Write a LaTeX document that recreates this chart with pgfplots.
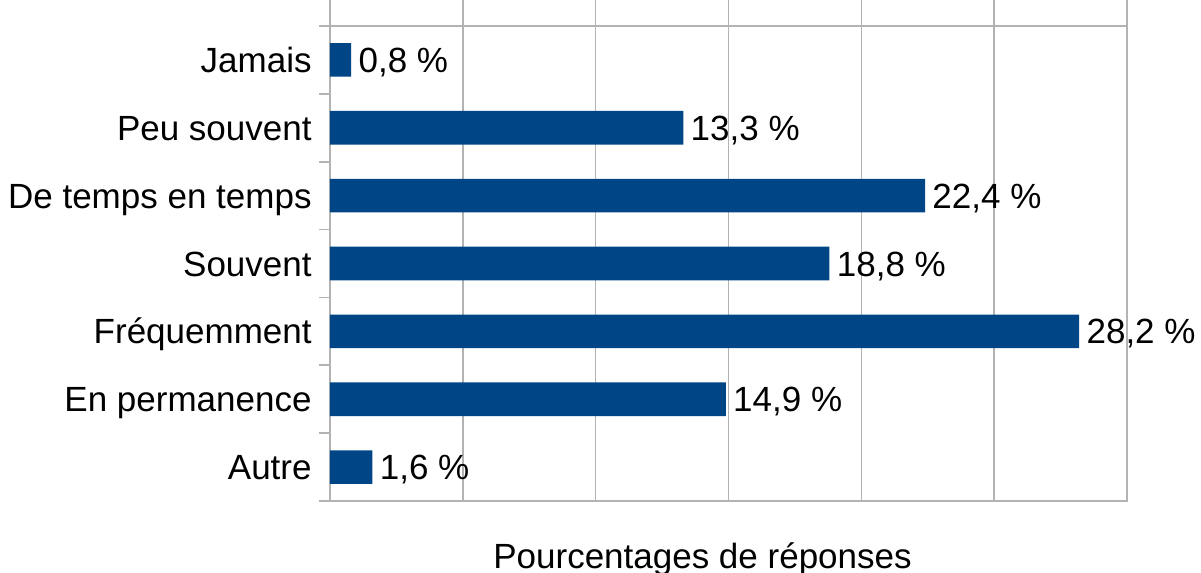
\documentclass[border=0pt]{standalone}
\usepackage{pgfplots}
\pgfplotsset{compat=1.18}
\usepackage{fontspec}
\setmainfont{Liberation Sans}
\definecolor{barblue}{RGB}{0,69,134}
\definecolor{gridgray}{RGB}{179,179,179}
\newcommand{\chartfont}{\fontsize{17.5}{21}\selectfont}

\begin{document}
\begin{tikzpicture}[font=\chartfont]
\begin{axis}[
  xbar,
  scale only axis, width=398.5pt, height=237.5pt,
  xmin=0, xmax=30, ymin=-0.5, ymax=6.5,
  xtick={0,5,...,30}, xticklabels={,,,,,,,},
  ytick={0,...,6}, ytick pos=left,
  yticklabels={Autre,En permanence,Fréquemment,Souvent,De temps en temps,Peu souvent,Jamais},
  minor ytick={-0.5,0.5,...,6.5},
  tick align=outside, major tick length=6pt, minor tick length=5.5pt,
  major y tick style={draw=none},
  minor y tick style={gridgray, line width=0.8pt},
  major x tick style={draw=none},
  xmajorgrids, major x grid style={gridgray, line width=0.8pt},
  axis line style={gridgray, line width=0.8pt},
  yticklabel style={font=\chartfont, anchor=east, inner sep=0pt, xshift=-3pt,
    text height=12.5pt, text depth=0pt},
  bar width=0.495,
  point meta=x,
  nodes near coords={\pgfmathprintnumber[fixed,fixed zerofill,precision=1,use comma,assume math mode=true]{\pgfplotspointmeta}~\%},
  nodes near coords style={font=\chartfont, black, anchor=west, inner sep=0pt, xshift=3.5pt,
    text height=12.5pt, text depth=0pt},
  clip=false,
]
\addplot[fill=barblue, draw=none] coordinates {
  (1.6,0) (14.9,1) (28.2,2) (18.8,3) (22.4,4) (13.3,5) (0.8,6)
};
% short gridline stubs above the frame
\pgfplotsinvokeforeach{0,5,...,30}{
  \draw[gridgray, line width=0.8pt] (axis cs:#1,6.5) -- ++(0,6pt);
}
\node[anchor=base] at (rel axis cs:0.4674,-0.1411) {Pourcentages de réponses};
\coordinate (bbsw) at (rel axis cs:-0.41405,-0.14947);
\coordinate (bbne) at (rel axis cs:1.09285,1.05474);
\end{axis}
\pgfresetboundingbox
\path[use as bounding box] (bbsw) rectangle (bbne);
\end{tikzpicture}
\end{document}
